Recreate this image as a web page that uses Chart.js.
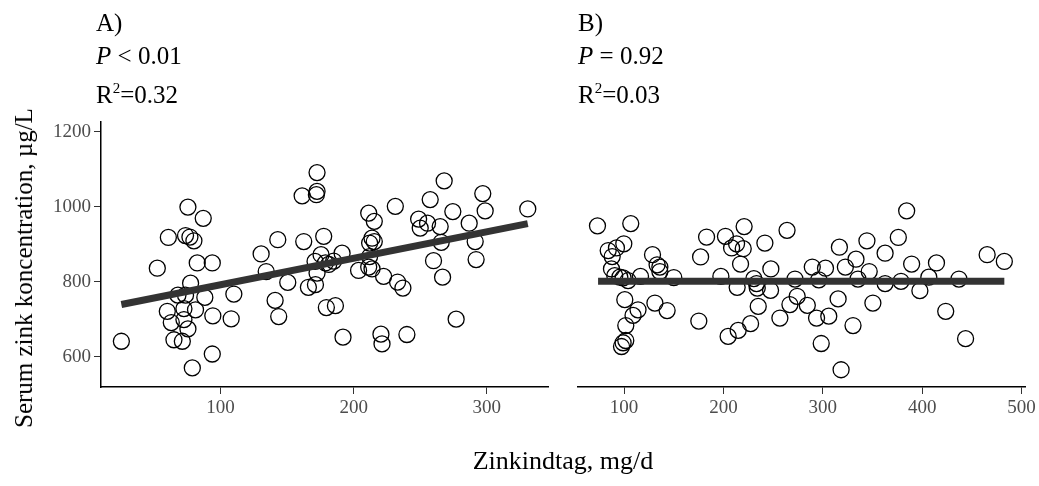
<!DOCTYPE html>
<html>
<head>
<meta charset="utf-8">
<script src="https://cdn.jsdelivr.net/npm/chart.js@4/dist/chart.umd.min.js"></script>
<style>
  body { margin: 0; background: #fff; }
  #wrap { position: relative; width: 1039px; height: 486px; font-family: "Liberation Serif", "Times New Roman", serif; color: #000; }
  canvas { position: absolute; top: 0; }
  .note { position: absolute; font-size: 25px; line-height: 25px; white-space: nowrap; }
  .note sup { font-size: 15px; vertical-align: 10px; line-height: 0; }
  #ytitle { position: absolute; font-size: 25px; white-space: nowrap; left: 24px; top: 268px; transform: translate(-50%, -50%) rotate(-90deg); }
  #xtitle { position: absolute; font-size: 26px; white-space: nowrap; left: 563px; top: 461px; transform: translate(-50%, -50%); }
</style>
</head>
<body>
<div id="wrap">
  <canvas id="left" width="560" height="486" style="left:0;width:560px;height:486px"></canvas>
  <canvas id="right" width="479" height="486" style="left:560px;width:479px;height:486px"></canvas>
  <div class="note" style="left:96px;top:10px">A)</div>
  <div class="note" style="left:96px;top:43px"><i>P</i> &lt; 0.01</div>
  <div class="note" style="left:96px;top:82px">R<sup>2</sup>=0.32</div>
  <div class="note" style="left:578px;top:10px">B)</div>
  <div class="note" style="left:578px;top:43px"><i>P</i> = 0.92</div>
  <div class="note" style="left:578px;top:82px">R<sup>2</sup>=0.03</div>
  <div id="ytitle">Serum zink koncentration, µg/L</div>
  <div id="xtitle">Zinkindtag, mg/d</div>
</div>
<script>
// panel A: zinc intake (mg/d) vs serum zinc (µg/L)
const intakeA = [25.5, 52.5, 60.8, 75.5, 87, 73.7, 77, 80, 82.5, 93.8, 77.5, 68, 73.7, 88.2, 110,
  60, 72.5, 81.2, 63, 72.5, 94.2, 108, 75.5, 65, 71.3, 93.8, 78.8, 130.5, 134.3, 143,
  150.5, 141, 143.7, 161.3, 172.5, 172.5, 172, 162.5, 177.5, 171, 175.5, 178.8, 172.5, 166, 171.3,
  179.5, 181.3, 185, 191.3, 186.3, 192, 203.7, 211.3, 215.5, 213.8, 215.5, 212, 212, 211.3,
  213.8, 222.5, 233, 237, 220.5, 221.3, 240, 231.3, 248.8, 250, 255.5, 257.5, 265, 268,
  265.8, 260, 266.8, 277, 274.5, 286.8, 297, 298.8, 291.3, 292, 330.8];
const serumA = [641, 836, 918, 999, 969, 923, 919, 909, 850, 850, 796, 764, 764, 758, 767,
  721, 728, 725, 691, 699, 709, 701, 674, 645, 641, 607, 570, 874, 827, 912,
  798, 750, 707, 1029, 1091, 1041, 1032, 907, 921, 854, 872, 850, 823, 785, 792,
  731, 846, 855, 876, 736, 652, 830, 983, 961, 916, 907, 903, 867, 839,
  834, 814, 799, 783, 660, 634, 659, 1001, 967, 943, 956, 1019, 947, 1069,
  905, 856, 812, 700, 987, 956, 1035, 989, 907, 859, 994];
const fitA = [{ x: 25.5, y: 739 }, { x: 330.8, y: 955 }];

// panel B
const intakeB = [73.2, 106.7, 84, 92.3, 99.7, 88, 87.3, 90.6, 95.7, 99, 104, 116.5, 100.7, 114, 109,
  101.7, 101.7, 99, 97.4, 128.6, 133.2, 136, 136, 150, 131, 143.3, 175.2, 177, 183, 197.4,
  202, 213.2, 208.2, 219.9, 220.8, 217.2, 213.8, 230.6, 233.3, 234, 241.7, 247.7, 247.4, 235, 227.3,
  214.8, 204.7, 256.8, 264, 272, 274.2, 266.9, 284.4, 289.4, 302.7, 296, 293.7, 306, 298.4,
  318.4, 315.4, 316.7, 322.7, 333.4, 335.4, 344.4, 346.7, 330.4, 350.4, 362.7, 362.7, 376, 378.7,
  384.4, 389.4, 397.7, 406.7, 414.4, 423.7, 437, 443.7, 465.4, 482.7];
const serumB = [949, 955, 883, 890, 901, 867, 834, 816, 812, 810, 803, 814, 752, 725, 710,
  683, 643, 637, 627, 872, 845, 839, 827, 811, 743, 723, 695, 866, 919, 814,
  921, 901, 890, 888, 947, 847, 785, 808, 795, 783, 903, 834, 777, 734, 688,
  670, 654, 703, 937, 807, 761, 739, 737, 839, 836, 805, 703, 708, 635,
  565, 754, 892, 839, 860, 807, 909, 827, 683, 743, 876, 795, 918, 801,
  989, 847, 776, 812, 850, 721, 807, 648, 872, 854];
const fitB = [{ x: 73.8, y: 801 }, { x: 482.7, y: 801 }];

const yTicks = [600, 800, 1000, 1200];
const xTicksA = [100, 200, 300];
const xTicksB = [100, 200, 300, 400, 500];

const font = { family: "'Liberation Serif', serif", size: 19 };

function points(xs, ys) {
  return xs.map((x, i) => ({ x: x, y: ys[i] }));
}

function makeChart(id, xs, ys, fit, xMin, xMax, xTicks, showY, pad) {
  const ctx = document.getElementById(id).getContext("2d");
  return new Chart(ctx, {
    type: "scatter",
    data: {
      datasets: [
        {
          data: points(xs, ys),
          pointRadius: 8,
          pointHoverRadius: 8,
          pointBorderWidth: 1.3,
          pointBorderColor: "#000",
          pointBackgroundColor: "rgba(0,0,0,0)",
          order: 2
        },
        {
          type: "line",
          data: fit,
          borderColor: "#333333",
          borderWidth: 7,
          pointRadius: 0,
          order: 1
        }
      ]
    },
    options: {
      responsive: false,
      animation: false,
      events: [],
      layout: { padding: pad },
      plugins: { legend: { display: false }, tooltip: { enabled: false } },
      scales: {
        x: {
          type: "linear",
          min: xMin,
          max: xMax,
          afterBuildTicks: (s) => { s.ticks = xTicks.map(v => ({ value: v })); },
          afterFit: (s) => { s.height = 99; },
          border: { display: true, color: "#000", width: 1.5 },
          grid: { drawOnChartArea: false, drawTicks: true, tickLength: 7, color: "#333" },
          ticks: { color: "#4d4d4d", font: font, padding: 3, maxRotation: 0, callback: (v) => String(v) }
        },
        y: {
          type: "linear",
          display: showY,
          min: 519,
          max: 1226,
          afterBuildTicks: (s) => { s.ticks = yTicks.map(v => ({ value: v })); },
          afterFit: (s) => { s.width = showY ? 101 : 0; },
          border: { display: true, color: "#000", width: 1.5 },
          grid: { drawOnChartArea: false, drawTicks: true, tickLength: 7, color: "#333" },
          ticks: { color: "#4d4d4d", font: font, padding: 3, callback: (v) => String(v) }
        }
      }
    }
  });
}

makeChart("left", intakeA, serumA, fitA, 10.2, 346, xTicksA, true,
  { top: 122, right: 12, left: 0, bottom: 0 });
makeChart("right", intakeB, serumB, fitB, 53.6, 503.5, xTicksB, false,
  { top: 122, right: 14, left: 18, bottom: 0 });
</script>
</body>
</html>
